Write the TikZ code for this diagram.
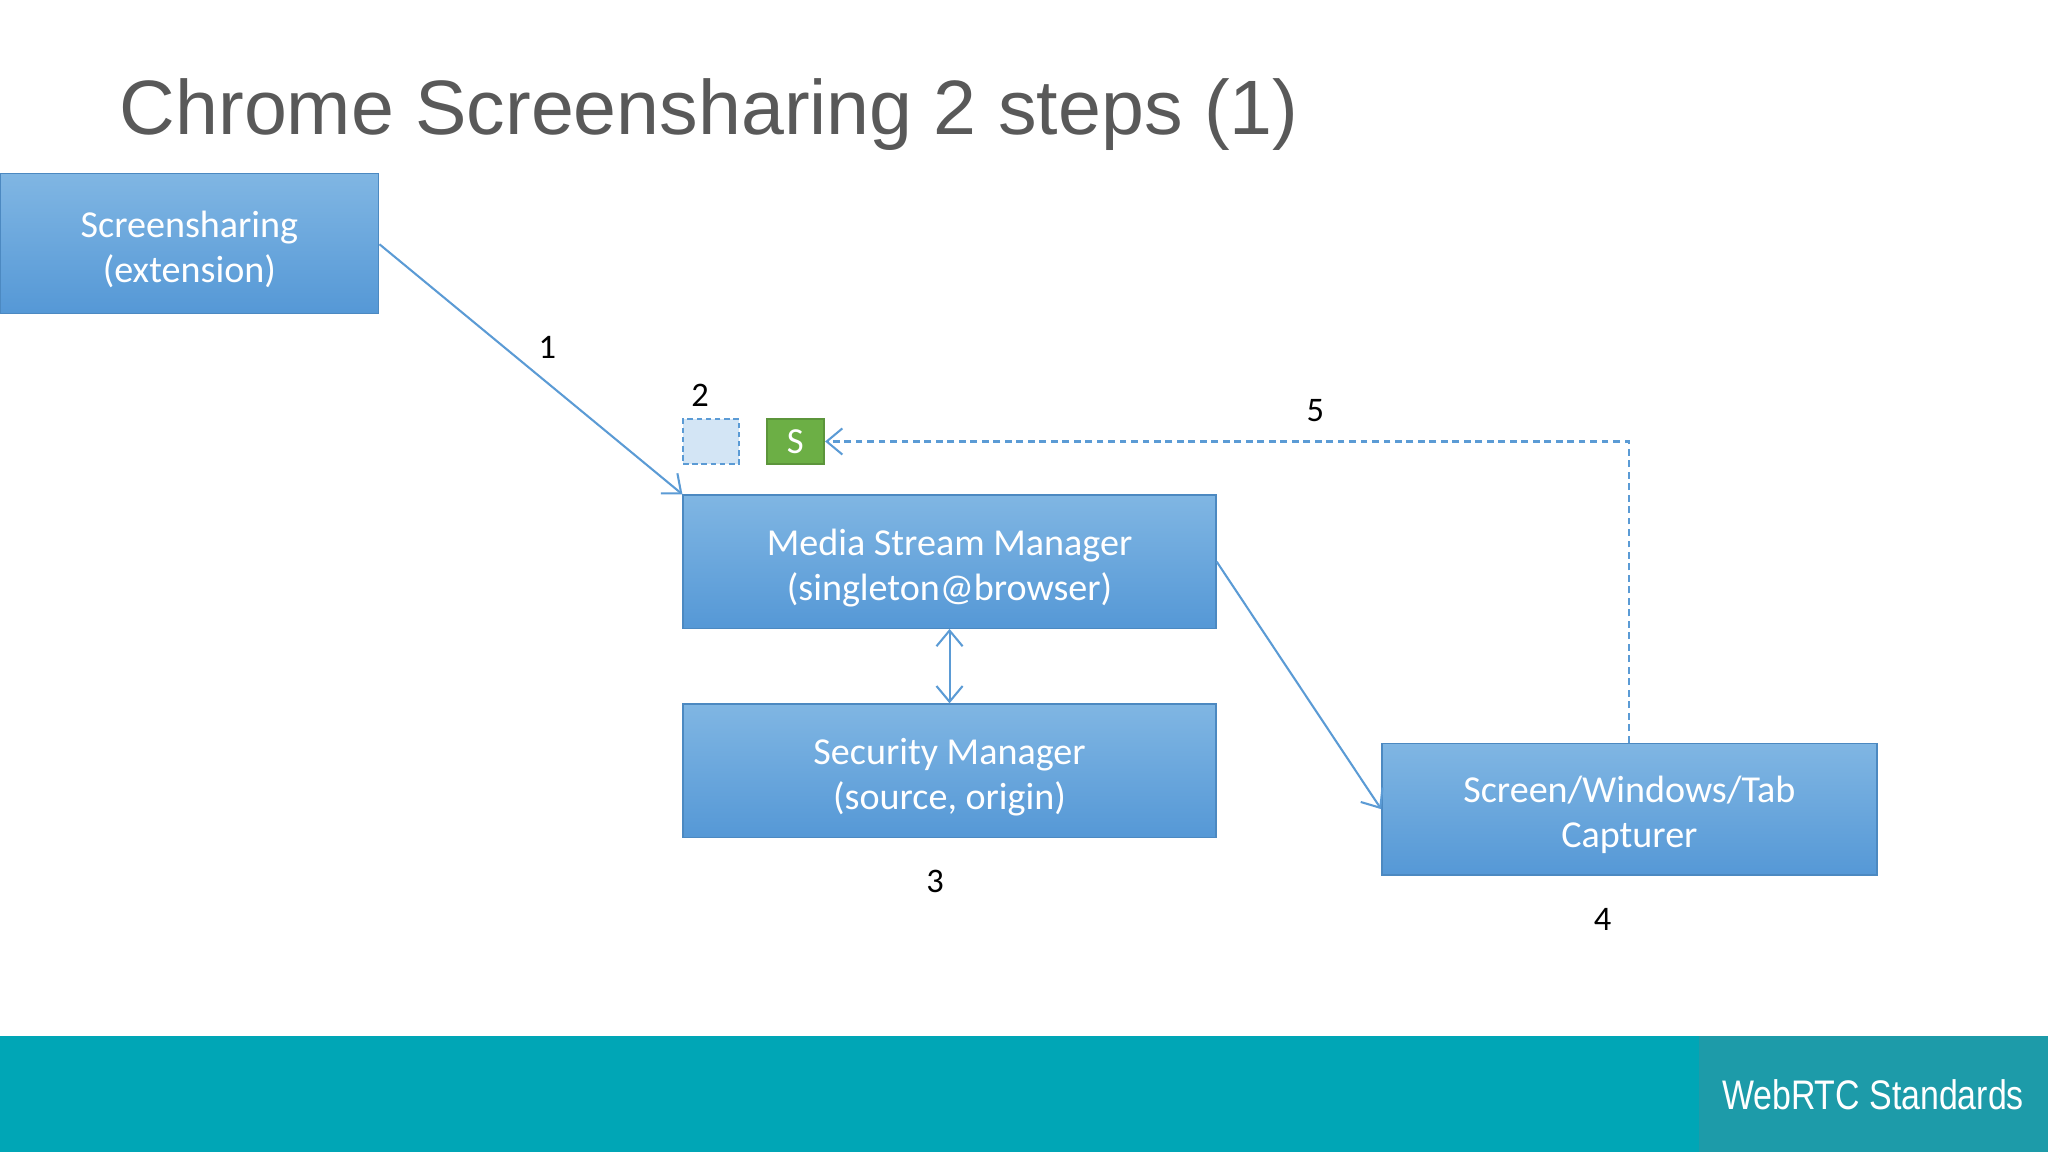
\documentclass[tikz,border=0pt]{standalone}
\usepackage{fontspec}
\setmainfont{Carlito}
\newfontfamily\titlefont{Liberation Sans}
\usetikzlibrary{arrows.meta}
\definecolor{boxtop}{HTML}{80B6E3}
\definecolor{boxbot}{HTML}{5598D6}
\definecolor{lineblue}{HTML}{5B9BD5}
\definecolor{band}{HTML}{00A6B6}
\definecolor{bandr}{HTML}{1D9BA9}
\definecolor{sgreen}{HTML}{6CAF45}
\tikzset{
 box/.style={draw=boxbot!90!black,line width=0.3pt,top color=boxtop,bottom color=boxbot,inner sep=0pt},
 boxtext/.style={label={[text=white,font=\fontsize{8.3}{9.8}\selectfont,align=center,yshift=-0.47mm]center:#1}},
 conn/.style={draw=lineblue,line width=0.45pt,-{Straight Barb[length=1.2mm,width=2mm]}},
 lbl/.style={font=\fontsize{7.5}{9}\selectfont,text=black}
}
\begin{document}
\begin{tikzpicture}[x=0.1mm,y=-0.1mm]
\useasboundingbox (0,0) rectangle (1568,882);
\fill[white] (0,0) rectangle (1568,882);
\fill[band] (0,793) rectangle (1568,882);
\fill[bandr] (1301,793) rectangle (1568,882);
\node[anchor=base west,inner sep=0,text=black!65,font=\titlefont\fontsize{16.8}{20}\selectfont] (title) at (91,103) {Chrome Screensharing 2 steps (1)};
\node[anchor=center,inner sep=0,text=white,font=\titlefont\fontsize{9}{10}\selectfont,xscale=0.82] (brand) at (1434,838) {WebRTC Standards};
\node[box,minimum width=29mm,minimum height=10.7mm,boxtext={Screensharing\\(extension)}] (ext) at (145,186.5) {};
\node[box,minimum width=40.8mm,minimum height=10.2mm,boxtext={Media Stream Manager\\(singleton@browser)}] (msm) at (727,430) {};
\node[box,minimum width=40.8mm,minimum height=10.2mm,boxtext={Security Manager\\(source, origin)}] (sec) at (727,590) {};
\node[box,minimum width=37.9mm,minimum height=10.1mm,boxtext={Screen/Windows/Tab\\Capturer}] (cap) at (1247.5,619.5) {};
\node[draw=lineblue,dashed,dash pattern=on 1.2pt off 0.8pt,fill=boxtop!35,minimum width=4.3mm,minimum height=3.4mm,inner sep=0] (tmp) at (544.5,338) {};
\node[draw=sgreen!85!black,fill=sgreen,minimum width=4.4mm,minimum height=3.4mm,inner sep=0,text=white,font=\fontsize{8}{9}\selectfont] (s) at (609,338) {S};
\node[lbl] (l1) at (419,266) {1};
\node[lbl] (l2) at (536,303) {2};
\node[lbl] (l3) at (716,675) {3};
\node[lbl] (l4) at (1227,704) {4};
\node[lbl] (l5) at (1007,314) {5};
\coordinate (c1) at (1247,338);
\draw[conn] (ext.east|-0,187) -- (msm.north west);
\draw[conn,{Straight Barb[length=1.2mm,width=2mm]}-{Straight Barb[length=1.2mm,width=2mm]}] (msm.south) -- (sec.north);
\draw[conn] (msm.east) -- (cap.west);
\draw[conn,dash pattern=on 1.5pt off 1pt] (cap.north-|c1) -- (c1) -- (s.east);
\end{tikzpicture}
\end{document}
